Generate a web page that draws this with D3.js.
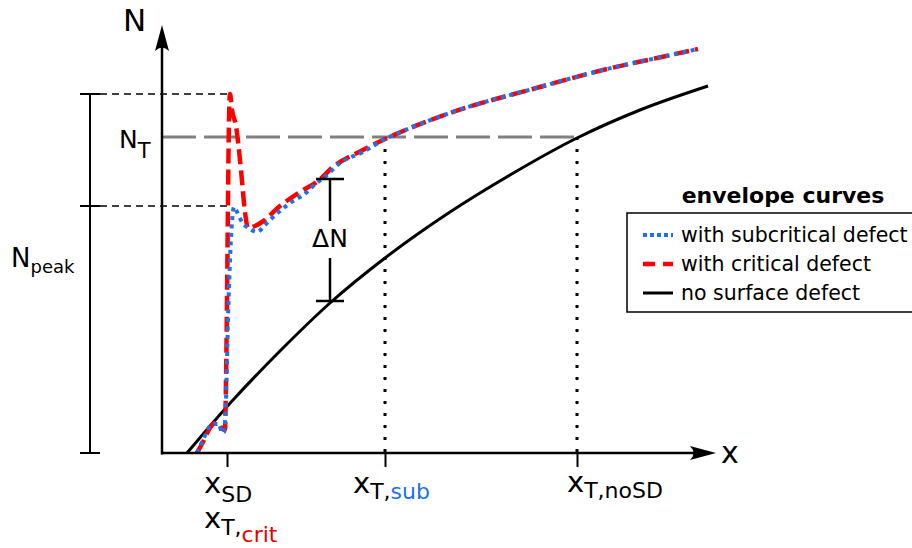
<!DOCTYPE html>
<html>
<head>
<meta charset="utf-8">
<script src="https://cdn.jsdelivr.net/npm/d3@7"></script>
<style>
  body { margin: 0; background: #fff; }
  svg { display: block; font-family: "DejaVu Sans", sans-serif; }
</style>
</head>
<body>
<svg id="chart" width="912" height="548"></svg>
<script>
// schematic values, in arbitrary x / N units
const noDefectX = [5, 14.2, 23.6, 33.6, 44.6, 57.6, 69.6, 83, 95.6, 109.2];
const noDefectN = [0, 10.6, 20.4, 30, 39, 48.2, 55.6, 63, 68.6, 73.4];

const critX = [7, 8.2, 9.6, 10.6, 11.4, 12, 12.6, 12.8, 13, 13.2, 13.4, 13.6, 14, 14.8, 15.8, 16.6, 17.2, 18.6, 20, 23.6, 27.6, 31.2, 34.2, 40.2, 44.6, 48, 57, 75.6, 89, 99, 107.2];
const critN = [0, 2.2, 5, 6, 5.8, 4.8, 4.6, 14.6, 30.6, 50.6, 66.6, 71.8, 68.6, 65.4, 56.6, 48.2, 45, 45.4, 46.2, 49.4, 52.2, 54.4, 57.2, 60.6, 62.8, 64.3, 67.8, 73.2, 76.8, 79, 80.8];

const subX = [7, 8.2, 9.6, 10.4, 11.4, 12, 12.4, 12.8, 13.2, 13.6, 14, 14.4, 14.8, 16, 17.6, 19, 20.6, 22, 25.6, 29, 30, 33, 35.6, 40.2, 44.6, 48, 57, 75.6, 89, 99, 107.2];
const subN = [0, 2.6, 5.4, 5.8, 5.8, 4, 4.2, 10.6, 26.6, 38.6, 46.2, 49.2, 48.6, 46.2, 44.8, 44.2, 45.6, 47, 50, 52.2, 53.2, 55.6, 58, 60.2, 62.8, 64.3, 67.8, 73.2, 76.8, 79, 80.8];

const xMarks = [13, 44.6, 83];          // x_SD / x_T,crit, x_T,sub, x_T,noSD
const nThreshold = 63.2;                 // N_T
const nPeakLevels = [0, 49.4, 71.8];     // N_peak bracket
const deltaAt = 33.6;
const deltaRange = [30.4, 54.8];

const legendLabels = ["with subcritical defect", "with critical defect", "no surface defect"];

const svg = d3.select("#chart");
const x = d3.scaleLinear().domain([0, 110]).range([162, 712]);
const y = d3.scaleLinear().domain([0, 86]).range([453, 23]);

const toPts = (xs, ns) => xs.map((v, i) => [v, ns[i]]);
const line = d3.line().x(d => x(d[0])).y(d => y(d[1])).curve(d3.curveMonotoneX);

// threshold N_T
svg.append("line")
  .attr("x1", x(0)).attr("x2", x(xMarks[2]))
  .attr("y1", y(nThreshold)).attr("y2", y(nThreshold))
  .attr("stroke", "#808080").attr("stroke-width", 3)
  .attr("stroke-dasharray", "34,8");

// dotted verticals at the crossing points
svg.selectAll(".vdot").data(xMarks.slice(1)).enter().append("line")
  .attr("x1", d => x(d)).attr("x2", d => x(d))
  .attr("y1", y(nThreshold)).attr("y2", y(0))
  .attr("stroke", "#000").attr("stroke-width", 3)
  .attr("stroke-dasharray", "3,9");

// dashed guides for peaks
svg.selectAll(".hguide").data(nPeakLevels.slice(1)).enter().append("line")
  .attr("x1", 100).attr("x2", x(13.6))
  .attr("y1", d => y(d)).attr("y2", d => y(d))
  .attr("stroke", "#000").attr("stroke-width", 1.5)
  .attr("stroke-dasharray", "7,5");

// N_peak bracket
svg.append("line").attr("x1", 90).attr("x2", 90)
  .attr("y1", y(nPeakLevels[0])).attr("y2", y(nPeakLevels[2]))
  .attr("stroke", "#000").attr("stroke-width", 2);
svg.selectAll(".ptick").data(nPeakLevels).enter().append("line")
  .attr("x1", 80).attr("x2", 100)
  .attr("y1", d => y(d)).attr("y2", d => y(d))
  .attr("stroke", "#000").attr("stroke-width", 2);

// curves
svg.append("path").datum(toPts(noDefectX, noDefectN))
  .attr("d", line).attr("fill", "none")
  .attr("stroke", "#000").attr("stroke-width", 3);
svg.append("path").datum(toPts(critX, critN))
  .attr("d", line).attr("fill", "none")
  .attr("stroke", "#f00").attr("stroke-width", 4.5)
  .attr("stroke-dasharray", "15,6");
svg.append("path").datum(toPts(subX, subN))
  .attr("d", line).attr("fill", "none")
  .attr("stroke", "#1a73e8").attr("stroke-width", 4)
  .attr("stroke-dasharray", "4,4.5");

// delta N bracket
const dx = x(deltaAt);
svg.append("line").attr("x1", dx).attr("x2", dx)
  .attr("y1", y(deltaRange[1])).attr("y2", 221)
  .attr("stroke", "#000").attr("stroke-width", 2.5);
svg.append("line").attr("x1", dx).attr("x2", dx)
  .attr("y1", 258).attr("y2", y(deltaRange[0]))
  .attr("stroke", "#000").attr("stroke-width", 2.5);
svg.selectAll(".dcap").data(deltaRange).enter().append("line")
  .attr("x1", dx - 14).attr("x2", dx + 14)
  .attr("y1", d => y(d)).attr("y2", d => y(d))
  .attr("stroke", "#000").attr("stroke-width", 2.5);
svg.append("text").attr("x", dx).attr("y", 247)
  .attr("text-anchor", "middle").attr("font-size", 25).text("ΔN");

// axes
svg.append("line").attr("x1", x(0)).attr("x2", x(0))
  .attr("y1", y(0) + 1.5).attr("y2", 42)
  .attr("stroke", "#000").attr("stroke-width", 2.5);
svg.append("line").attr("x1", x(0) - 1).attr("x2", 700)
  .attr("y1", y(0)).attr("y2", y(0))
  .attr("stroke", "#000").attr("stroke-width", 2.5);
svg.append("path").attr("d", `M${x(0)},25 L${x(0) + 7},51 Q${x(0)},44 ${x(0) - 7},51 Z`).attr("fill", "#000");
svg.append("path").attr("d", `M716,${y(0)} L690,${y(0) - 7} Q697,${y(0)} 690,${y(0) + 7} Z`).attr("fill", "#000");

const xAxis = d3.axisBottom(x).tickValues(xMarks).tickSize(14).tickFormat("");
const gx = svg.append("g").attr("transform", `translate(0,${y(0)})`).call(xAxis);
gx.select(".domain").remove();
gx.selectAll(".tick line").attr("stroke-width", 2);

svg.append("text").attr("x", 123).attr("y", 31).attr("font-size", 31).text("N");
svg.append("text").attr("x", 721).attr("y", 463).attr("font-size", 30).text("x");

// N_T and N_peak labels
const nt = svg.append("text").attr("x", 119).attr("y", 148).attr("font-size", 25);
nt.append("tspan").text("N");
nt.append("tspan").attr("dy", 10).attr("font-size", 21).text("T");
const np = svg.append("text").attr("x", 11).attr("y", 267).attr("font-size", 26);
np.append("tspan").text("N");
np.append("tspan").attr("dy", 6).attr("font-size", 18).text("peak");

// x tick labels
function subLabel(px, py, parts) {
  const t = svg.append("text").attr("x", px).attr("y", py).attr("font-size", 29);
  t.append("tspan").text("x");
  parts.forEach(p => {
    t.append("tspan").attr("dy", p.dy).attr("font-size", 22)
      .attr("fill", p.color || "#000").text(p.text);
  });
}
subLabel(x(xMarks[0]) - 23, 493, [{text: "SD", dy: 9}]);
subLabel(x(xMarks[0]) - 23, 528, [{text: "T,", dy: 7}, {text: "crit", dy: 7, color: "#e00"}]);
subLabel(x(xMarks[1]) - 32, 493, [{text: "T,", dy: 6}, {text: "sub", dy: 0, color: "#1a73e8"}]);
subLabel(x(xMarks[2]) - 10, 492, [{text: "T,noSD", dy: 6}]);

// legend
svg.append("text").attr("x", 783).attr("y", 203)
  .attr("text-anchor", "middle").attr("font-size", 22).attr("font-weight", "bold")
  .text("envelope curves");
svg.append("rect").attr("x", 627).attr("y", 213).attr("width", 300).attr("height", 99)
  .attr("fill", "#fff").attr("stroke", "#000").attr("stroke-width", 1.5);
const legendStyles = [
  {color: "#1a73e8", dash: "4,3", w: 4},
  {color: "#f00", dash: "12,8", w: 4.5},
  {color: "#000", dash: null, w: 3}
];
legendLabels.forEach((lab, i) => {
  const ly = 235 + i * 29;
  svg.append("line").attr("x1", 643).attr("x2", 673).attr("y1", ly).attr("y2", ly)
    .attr("stroke", legendStyles[i].color).attr("stroke-width", legendStyles[i].w)
    .attr("stroke-dasharray", legendStyles[i].dash);
  svg.append("text").attr("x", 681).attr("y", ly + 7).attr("font-size", 20.5).text(lab);
});
</script>
</body>
</html>
